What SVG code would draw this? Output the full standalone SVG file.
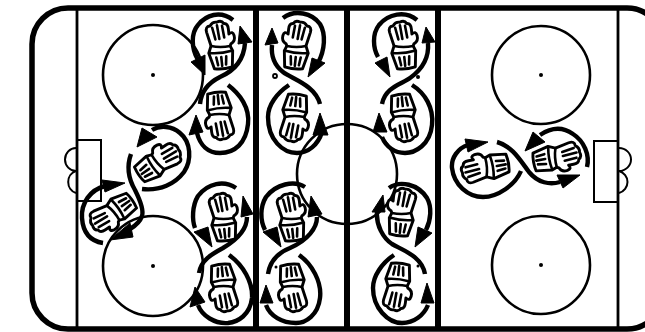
<svg xmlns="http://www.w3.org/2000/svg" width="645" height="332" viewBox="0 0 645 332">
<style>
.t{fill:none;stroke:#000;stroke-width:2.6}
.g{fill:none;stroke:#000;stroke-width:2.8}
.b{fill:none;stroke:#000;stroke-width:6}
.s{fill:none;stroke:#000;stroke-width:4.4;stroke-linecap:butt;stroke-linejoin:round}
.h{fill:#000;stroke:#000;stroke-width:1;stroke-linejoin:round}
.d{fill:#000}
.o{fill:#fff;stroke:#000;stroke-width:2.900;stroke-linejoin:round}
.l{fill:none;stroke:#000;stroke-width:2.600;stroke-linecap:round}
</style>
<defs>
<g id="glove">
<path class="o" d="M-9,0L-12,-14Q-13,-20 -8,-20Q-5,-24 -1,-23Q4,-25 6,-21Q10,-21 10,-15L10,-10Q14,-13 15,-8Q16,-2 11,0L10,2L12,7L10,23Q0,25 -8,23L-12,7Z"/>
<path class="l" d="M-6,-18L-4,-6M-1,-20L0,-6M4,-19L5,-7M-9,0Q0,3 10,2M-11,7Q0,9 11,7M-5,12L-4,20M0,12L0,21M5,12L4,20"/>
</g>
</defs>
<g id="rink">
<rect x="32" y="8" width="631" height="321" rx="36" ry="36" fill="#fff" stroke="#000" stroke-width="5.500"/>
<path class="g" d="M77,9V328M618,9V328"/>
<path class="b" d="M256,10V328M347,10V328M438,10V328"/>
<path class="t" style="stroke-width:2" d="M76,140H101V201H76M619,141H594V202H619"/>
<path class="t" style="stroke-width:2" d="M76,148A11,11.500 0 0 0 76,171A11,11.500 0 0 0 76,193M619,148A12,11.500 0 0 1 619,171A12,11.500 0 0 1 619,193"/>
<g class="t">
<circle cx="153" cy="75" r="50"/><circle cx="153" cy="266" r="50"/><circle cx="541" cy="75" r="49"/><circle cx="541" cy="265" r="49"/><circle cx="347" cy="174" r="50"/>
<circle cx="275" cy="76" r="2" style="stroke-width:1.800"/></g>
<g class="d"><circle cx="153" cy="75" r="2"/><circle cx="153" cy="266" r="2"/><circle cx="541" cy="75" r="2"/><circle cx="541" cy="265" r="2"/><circle cx="418" cy="77" r="2"/><circle cx="276" cy="267" r="1.500"/><circle cx="418" cy="266" r="1.500"/></g>
</g>
<g id="connectors">
<path class="s" d="M245,43C244,58 236,70 220,77C208,83 201,92 200,104"/><path class="h" d="M240,26L238,44L252,42Z"/>
<path class="s" d="M233,20C220,10 206,15 198,25C191,33 191,48 198,60"/><path class="h" d="M205,75L191,62L205,55Z"/>
<path class="s" d="M228,85C240,94 250,108 248,124C246,143 235,153 220,153C208,153 200,145 197,133"/><path class="h" d="M196,115L189,135L203,132Z"/>
<path class="s" d="M272,45C271,55 274,65 283,72C292,79 315,85 320,104"/><path class="h" d="M272,28L265,45L278,43Z"/>
<path class="s" d="M283,18C295,9 312,13 320,24C326,34 325,50 318,63"/><path class="h" d="M308,77L312,58L325,63Z"/>
<path class="s" d="M289,85C277,93 268,105 268,117C268,140 283,153 297,153C308,153 318,145 322,132"/><path class="h" d="M320,113L313,135L328,135Z"/>
<path class="s" d="M428,43C429,55 424,68 410,78C402,84 385,87 382,104"/><path class="h" d="M426,27L422,43L435,42Z"/>
<path class="s" d="M417,20C405,10 388,14 379,25C372,34 373,48 378,57"/><path class="h" d="M390,77L375,63L387,57Z"/>
<path class="s" d="M412,85C425,93 434,108 432,125C430,145 415,153 405,153C395,153 386,147 382,137"/><path class="h" d="M379,113L373,132L387,132Z"/>
<path class="s" d="M247,217C247,228 240,238 223,248C212,254 201,260 199,273"/><path class="h" d="M243,196L241,217L253,214Z"/>
<path class="s" d="M236,188C224,180 208,183 198,196C192,206 192,220 195,228"/><path class="h" d="M212,247L194,232L208,227Z"/>
<path class="s" d="M229,255C243,265 253,282 252,298C250,315 238,322 228,323C215,324 202,316 198,305"/><path class="h" d="M195,287L190,307L205,302Z"/>
<path class="s" d="M317,217C317,228 308,240 290,248C280,252 270,260 268,274"/><path class="h" d="M311,196L308,217L322,214Z"/>
<path class="s" d="M305,187C294,180 276,184 266,197C260,207 260,220 265,230"/><path class="h" d="M281,247L263,232L277,227Z"/>
<path class="s" d="M299,255C312,264 322,282 320,298C318,315 306,323 296,323C282,323 270,316 266,305"/><path class="h" d="M266,285L260,303L273,303Z"/>
<path class="s" d="M377,212C376,225 383,238 392,244C402,250 422,256 425,274"/><path class="h" d="M383,195L372,212L385,212Z"/>
<path class="s" d="M389,188C400,180 418,184 427,198C432,207 431,220 426,230"/><path class="h" d="M415,247L418,227L432,233Z"/>
<path class="s" d="M394,255C382,263 373,276 373,288C373,308 388,323 402,323C414,323 424,315 428,305"/><path class="h" d="M427,283L421,303L434,303Z"/>
<path class="s" d="M131,154C127,165 128,178 135,190C140,200 144,210 142,216C140,222 135,226 130,229"/><path class="h" d="M110,240L130,223L133,237Z"/>
<path class="s" d="M142,189C160,191 175,184 184,172C192,160 191,142 180,133C172,126 160,125 152,130"/><path class="h" d="M137,147L142,128L157,137Z"/>
<path class="s" d="M103,243C90,241 83,232 82,218C81,203 90,190 105,186"/><path class="h" d="M125,183L102,180L105,192Z"/>
<path class="s" d="M560,182C550,185 538,183 529,172C520,160 512,146 497,142"/><path class="h" d="M580,175L557,175L563,188Z"/>
<path class="s" d="M587,167C590,155 584,141 573,134C563,127 552,127 540,135"/><path class="h" d="M525,151L533,132L545,142Z"/>
<path class="s" d="M521,171C515,185 498,197 483,197C468,197 454,185 452,168C451,158 458,148 468,145"/><path class="h" d="M488,142L465,139L468,152Z"/>
</g>
<g id="g1"><use href="#glove" transform="translate(220,45) rotate(-6)"/></g>
<g id="g2"><use href="#glove" transform="translate(220,116) rotate(174)"/></g>
<g id="g3"><use href="#glove" transform="translate(297,45) rotate(6) scale(-1,1)"/></g>
<g id="g4"><use href="#glove" transform="translate(294,118) rotate(186) scale(-1,1)"/></g>
<g id="g5"><use href="#glove" transform="translate(403,45) rotate(-6)"/></g>
<g id="g6"><use href="#glove" transform="translate(404,118) rotate(174)"/></g>
<g id="g7"><use href="#glove" transform="translate(223,217) rotate(-6)"/></g>
<g id="g8"><use href="#glove" transform="translate(224,288) rotate(174)"/></g>
<g id="g9"><use href="#glove" transform="translate(291,217) rotate(-6)"/></g>
<g id="g10"><use href="#glove" transform="translate(293,288) rotate(174)"/></g>
<g id="g11"><use href="#glove" transform="translate(402,212) rotate(6) scale(-1,1)"/></g>
<g id="g12"><use href="#glove" transform="translate(397,287) rotate(186) scale(-1,1)"/></g>
<g id="g13"><use href="#glove" transform="translate(159,162) rotate(55) scale(-1,1)"/></g>
<g id="g14"><use href="#glove" transform="translate(112,213) rotate(235) scale(-1,1)"/></g>
<g id="g15"><use href="#glove" transform="translate(485,168) rotate(-100)"/></g>
<g id="g16"><use href="#glove" transform="translate(557,157) rotate(80)"/></g>
</svg>
